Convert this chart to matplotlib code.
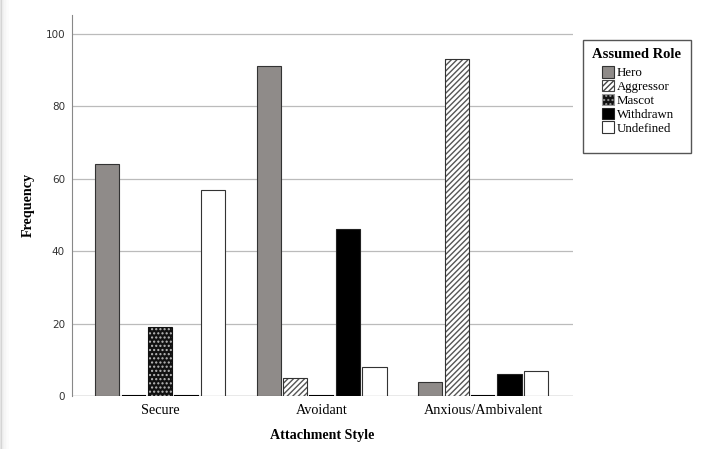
import numpy as np
import matplotlib.pyplot as plt
from matplotlib.patches import Patch, Rectangle

styles = ["Secure", "Avoidant", "Anxious/Ambivalent"]
roles = ["Hero", "Aggressor", "Mascot", "Withdrawn", "Undefined"]
hero = [64, 91, 4]
aggressor = [0, 5, 93]
mascot = [19, 0, 0]
withdrawn = [0, 46, 6]
undefined = [57, 8, 7]
y_ticks = [0, 20, 40, 60, 80, 100]

serif = "Liberation Serif"


def main():
    fig = plt.figure(figsize=(7.04, 4.49), dpi=100)
    ax = fig.add_axes([72 / 704, 53 / 449, 501 / 704, 381 / 449])

    # left edge shadow of the original screenshot
    for i, a in enumerate([0.22, 0.16, 0.11, 0.07, 0.04, 0.02]):
        fig.add_artist(Rectangle((i * 1.4 / 704, 0), 1.5 / 704, 1,
                                 transform=fig.transFigure,
                                 color="#888888", alpha=a, lw=0))

    x = np.arange(len(styles))
    slot = 0.164
    w = 0.149
    series = [hero, aggressor, mascot, withdrawn, undefined]
    for k, vals in enumerate(series):
        pos = x + (k - 2) * slot
        if k == 0:
            ax.bar(pos, vals, w, color="#8f8b89", edgecolor="#333333",
                   lw=0.8, zorder=3)
        elif k == 1:
            ax.bar(pos, vals, w, color="white", edgecolor="#555555",
                   hatch="//////", lw=0, zorder=3)
            ax.bar(pos, vals, w, color="none", edgecolor="#333333",
                   lw=0.8, zorder=4)
        elif k == 2:
            ax.bar(pos, vals, w, color="#111111", edgecolor="#bbbbbb",
                   hatch="....", lw=0, zorder=3)
            ax.bar(pos, vals, w, color="none", edgecolor="#111111",
                   lw=0.8, zorder=4)
        elif k == 3:
            ax.bar(pos, vals, w, color="black", edgecolor="#222222",
                   lw=0.8, zorder=3)
        else:
            ax.bar(pos, vals, w, color="white", edgecolor="#333333",
                   lw=0.8, zorder=3)
        # zero-height bars shown as a thin dark line
        for p, v in zip(pos, vals):
            if v == 0:
                ax.plot([p - w / 2, p + w / 2], [0, 0], color="black",
                        lw=1.5, zorder=5, solid_capstyle="butt")

    ax.set_xlim(-0.545, 2.557)
    ax.set_ylim(0, 105.2)
    ax.set_yticks(y_ticks)
    ax.set_xticks(x)
    ax.set_xticklabels(styles, fontfamily=serif, fontsize=10.3)
    ax.tick_params(axis="both", length=0)
    ax.tick_params(axis="y", labelsize=7.5, labelcolor="#333333", pad=5)
    ax.tick_params(axis="x", pad=6)
    ax.yaxis.grid(True, color="#bbbbbb", lw=0.9, zorder=0)
    for s in ["top", "right", "bottom"]:
        ax.spines[s].set_visible(False)
    ax.spines["left"].set_color("#888888")
    ax.axhline(0, color="#888888", lw=0.9, zorder=1)

    fig.text(28 / 704, 1 - 205 / 449, "Frequency", rotation=90,
             ha="center", va="center", fontfamily=serif,
             fontweight="bold", fontsize=10.2)
    fig.text(322 / 704, 1 - 436 / 449, "Attachment Style",
             ha="center", va="center", fontfamily=serif,
             fontweight="bold", fontsize=10.1)

    # legend frame drawn by hand to match the original box size
    fig.add_artist(Rectangle((583 / 704, 1 - 153 / 449), 108 / 704,
                             113 / 449, transform=fig.transFigure,
                             facecolor="white", edgecolor="#555555", lw=1.0))
    fig.text(637 / 704, 1 - 55 / 449, "Assumed Role", ha="center",
             va="center", fontfamily=serif, fontweight="bold",
             fontsize=10.5)

    handles = [
        Patch(facecolor="#8f8b89", edgecolor="#333333", lw=0.8),
        Patch(facecolor="white", edgecolor="#444444", hatch="//////", lw=0.8),
        Patch(facecolor="#111111", edgecolor="#999999", hatch="....", lw=0.8),
        Patch(facecolor="black", edgecolor="#222222", lw=0.8),
        Patch(facecolor="white", edgecolor="#333333", lw=0.8),
    ]
    fig.legend(handles, roles, loc="upper left",
               bbox_to_anchor=(602 / 704, 1 - 66 / 449),
               prop={"family": serif, "size": 9.3},
               frameon=False, borderpad=0, borderaxespad=0,
               handlelength=0.9, handleheight=1.0, handletextpad=0.25,
               labelspacing=0.05)

    fig.savefig("out.png", dpi=100)


if __name__ == "__main__":
    main()
